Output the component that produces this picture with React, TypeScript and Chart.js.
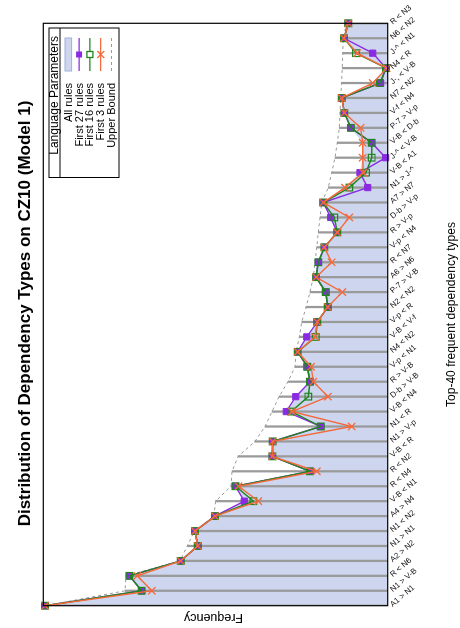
import React, { useEffect, useRef } from 'react';
import { Chart, registerables } from 'chart.js';

Chart.register(...registerables);

const TITLE = 'Distribution of Dependency Types on CZ10 (Model 1)';
const X_TITLE = 'Top-40 frequent dependency types';
const Y_TITLE = 'Frequency';
const LEGEND_TITLE = 'Language Parameters';

const categories = [
  'A1 > N1', 'N1 > V-B', 'R < N6', 'A2 > N2', 'N1 > N1', 'N1 < N2', 'A4 > N4', 'V-B < N1',
  'R < N4', 'R < N2', 'V-B < R', 'N1 > V-p', 'N1 < R', 'V-B < N4', 'D-b > V-B', 'R > V-B',
  'V-p < N1', 'N4 < N2', 'V-B < V-f', 'V-p < R', 'N2 < N2', 'P-7 > V-B', 'A6 > N6', 'R < N7',
  'V-p < N4', 'R > V-p', 'D-b > V-p', 'A7 > N7', 'N1 > J-^', 'V-B < A1', 'J-^ < V-B', 'V-B < D-b',
  'P-7 > V-p', 'V-f < N4', 'N7 < N2', 'J-, < V-B', 'N4 < R', 'J-^ < N1', 'N6 < N2', 'R < N3',
];

const allRules = [1990, 1429, 1500, 1202, 1103, 1119, 1003, 833, 884, 451, 670, 668, 389, 589, 534, 451, 467, 523, 470, 409, 348, 360, 416, 403, 368, 293, 331, 374, 248, 161, 145, 145, 214, 252, 267, 87, 10, 184, 254, 229];
const first27 = [1990, 1429, 1500, 1202, 1103, 1119, 1003, 833, 884, 451, 670, 668, 389, 589, 534, 451, 467, 523, 470, 409, 348, 360, 416, 403, 368, 293, 331, 374, 116, 161, 12, 93, 214, 252, 267, 41, 10, 87, 254, 229];
const first16 = [1990, 1429, 1500, 1202, 1103, 1119, 1003, 780, 884, 451, 670, 668, 389, 560, 461, 451, 467, 523, 418, 409, 348, 360, 416, 403, 368, 293, 310, 374, 223, 126, 93, 93, 214, 252, 267, 45, 10, 184, 254, 229];
const first3 = [1990, 1370, 1454, 1202, 1103, 1119, 1003, 751, 866, 412, 670, 668, 209, 556, 347, 432, 445, 523, 422, 409, 348, 264, 416, 325, 368, 293, 223, 374, 248, 142, 145, 145, 157, 252, 267, 87, 6, 177, 254, 229];
const upperBound = [1990, 1525, 1520, 1206, 1164, 1122, 1010, 999, 910, 904, 869, 771, 712, 672, 631, 579, 538, 532, 513, 499, 474, 451, 432, 422, 412, 403, 393, 383, 345, 325, 306, 293, 281, 277, 273, 268, 264, 261, 258, 239];

const FONT = '"Liberation Sans", Arial, Helvetica, sans-serif';
const FILL = '#cdd6ee';
const FILL_EDGE = '#9fb0dd';
const PURPLE = '#8a2be2';
const GREEN = '#1f851f';
const ORANGE = '#f4693a';
const GREY = '#9a9a9a';

const decor = {
  id: 'decor',
  afterDatasetsDraw(chart: any) {
    const { ctx, chartArea: a } = chart;
    ctx.save();
    ctx.strokeStyle = '#000';
    ctx.lineWidth = 1.2;
    ctx.strokeRect(a.left, a.top, a.right - a.left, a.bottom - a.top);
    ctx.restore();
  },
  afterDraw(chart: any) {
    const { ctx, chartArea: a, scales } = chart;
    const xs = scales.x;
    const cx = (a.left + a.right) / 2;
    ctx.save();
    ctx.fillStyle = '#000';
    ctx.textAlign = 'center';
    ctx.textBaseline = 'alphabetic';
    ctx.font = `bold 17px ${FONT}`;
    ctx.fillText(TITLE, cx + 1, 29.5);
    ctx.font = `12px ${FONT}`;
    ctx.fillText(X_TITLE, cx, 455);
    ctx.save();
    ctx.translate(14, (a.top + a.bottom) / 2 - 2);
    ctx.rotate(-Math.PI / 2);
    ctx.font = `12.5px ${FONT}`;
    ctx.fillText(Y_TITLE, 0, 0);
    ctx.restore();

    // category tick labels
    ctx.font = `8px ${FONT}`;
    ctx.textAlign = 'left';
    ctx.fillStyle = '#111';
    categories.forEach((c, i) => {
      const x = xs.getPixelForValue(i);
      ctx.save();
      ctx.translate(x - 1.5, a.bottom + 5);
      ctx.rotate((50 * Math.PI) / 180);
      ctx.fillText(c, 0, 0);
      ctx.restore();
    });

    // legend
    const L = 450.5, R = 600, T = 49, B = 119;
    ctx.fillStyle = '#fff';
    ctx.fillRect(L, T, R - L, B - T);
    ctx.strokeStyle = '#000';
    ctx.lineWidth = 1;
    ctx.strokeRect(L, T, R - L, B - T);
    ctx.beginPath();
    ctx.moveTo(L, 60);
    ctx.lineTo(R, 60);
    ctx.stroke();
    ctx.fillStyle = '#000';
    ctx.textAlign = 'right';
    ctx.font = `12px ${FONT}`;
    ctx.fillText(LEGEND_TITLE, 592, 58);

    const rows = ['All rules', 'First 27 rules', 'First 16 rules', 'First 3 rules', 'Upper Bound'];
    const sx0 = 557, sx1 = 590, sxc = 573.5;
    ctx.font = `11px ${FONT}`;
    ctx.textBaseline = 'middle';
    rows.forEach((r, k) => {
      const y = 68.3 + k * 10.8;
      ctx.fillStyle = '#000';
      ctx.fillText(r, 545, y + 0.5);
      ctx.save();
      if (k === 0) {
        ctx.fillStyle = FILL;
        ctx.strokeStyle = FILL_EDGE;
        ctx.fillRect(sx0, y - 3.3, sx1 - sx0, 6.6);
        ctx.strokeRect(sx0, y - 3.3, sx1 - sx0, 6.6);
      } else {
        const col = [PURPLE, GREEN, ORANGE, GREY][k - 1];
        ctx.strokeStyle = col;
        ctx.lineWidth = k === 4 ? 1 : 1.3;
        if (k === 4) ctx.setLineDash([3, 3]);
        ctx.beginPath();
        ctx.moveTo(sx0, y);
        ctx.lineTo(sx1, y);
        ctx.stroke();
        ctx.setLineDash([]);
        if (k === 1) {
          ctx.fillStyle = PURPLE;
          ctx.fillRect(sxc - 3, y - 3, 6, 6);
        } else if (k === 2) {
          ctx.fillStyle = '#fff';
          ctx.fillRect(sxc - 3, y - 3, 6, 6);
          ctx.strokeRect(sxc - 3, y - 3, 6, 6);
        } else if (k === 3) {
          ctx.beginPath();
          ctx.moveTo(sxc - 3.5, y - 3.5);
          ctx.lineTo(sxc + 3.5, y + 3.5);
          ctx.moveTo(sxc - 3.5, y + 3.5);
          ctx.lineTo(sxc + 3.5, y - 3.5);
          ctx.stroke();
        }
      }
      ctx.restore();
    });
    ctx.restore();
  },
};

export default function App() {
  const ref = useRef<HTMLCanvasElement>(null);
  useEffect(() => {
    const canvas = ref.current as HTMLCanvasElement;
    const chart = new Chart(canvas, {
      type: 'line',
      data: {
        labels: categories,
        datasets: [
          {
            type: 'line', label: 'All rules', data: allRules, fill: 'origin',
            backgroundColor: FILL, borderColor: FILL, borderWidth: 0, pointRadius: 0, order: 6,
          } as any,
          {
            type: 'bar', label: 'drop', data: upperBound, backgroundColor: GREY,
            barThickness: 1.6, order: 5,
          } as any,
          {
            type: 'line', label: 'Upper Bound', data: upperBound, borderColor: GREY,
            borderDash: [3, 3], borderWidth: 1, pointRadius: 0, fill: false, order: 4,
          } as any,
          {
            type: 'line', label: 'First 27 rules', data: first27, borderColor: PURPLE,
            backgroundColor: PURPLE, pointStyle: 'rect', pointRadius: 4.4, pointBorderWidth: 1,
            borderWidth: 1.4, fill: false, clip: false, order: 3,
          } as any,
          {
            type: 'line', label: 'First 16 rules', data: first16, borderColor: GREEN,
            backgroundColor: 'rgba(0,0,0,0)', pointBorderColor: GREEN, pointStyle: 'rect',
            pointRadius: 4.7, pointBorderWidth: 1.2, borderWidth: 1.4, fill: false, clip: false, order: 2,
          } as any,
          {
            type: 'line', label: 'First 3 rules', data: first3, borderColor: ORANGE,
            backgroundColor: ORANGE, pointStyle: 'crossRot', pointRadius: 5.2, pointBorderWidth: 1.3,
            borderWidth: 1.4, fill: false, clip: false, order: 1,
          } as any,
        ],
      },
      options: {
        responsive: false,
        animation: false,
        devicePixelRatio: 1,
        layout: { padding: { left: 22.3, right: 23.3, top: 43.3, bottom: 72.3 } },
        scales: {
          x: { type: 'category', offset: false, display: false },
          y: { min: 0, max: 2000, display: false },
        },
        elements: { line: { tension: 0 } },
        plugins: { legend: { display: false }, tooltip: { enabled: false }, title: { display: false } },
      } as any,
      plugins: [decor],
    });
    return () => chart.destroy();
  }, []);
  return (
    <div style={{ position: 'absolute', left: 0, top: 0, width: 460, height: 628, overflow: 'hidden', background: '#fff' }}>
      <canvas
        ref={ref}
        width={628}
        height={460}
        style={{
          position: 'absolute', left: 0, top: 0, width: 628, height: 460,
          transformOrigin: '0 0', transform: 'translate(0px, 628px) rotate(-90deg)',
        }}
      />
    </div>
  );
}
